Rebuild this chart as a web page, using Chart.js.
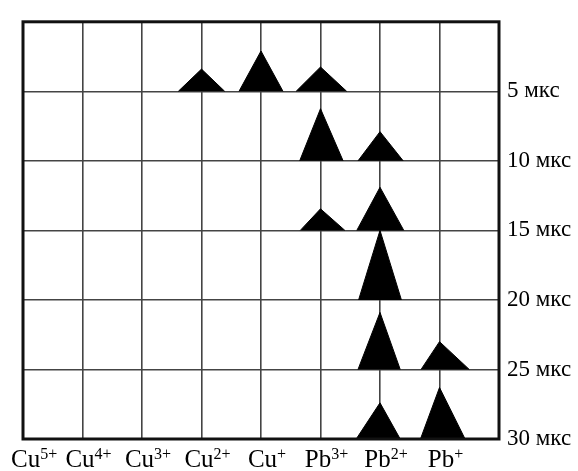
<!DOCTYPE html>
<html>
<head>
<meta charset="utf-8">
<script src="https://cdn.jsdelivr.net/npm/chart.js@4/dist/chart.umd.min.js"></script>
<style>
  html, body { margin: 0; padding: 0; background: #fff; }
  #chart { display: block; }
</style>
</head>
<body>
<canvas id="chart" width="578" height="471"></canvas>
<script>
// ионы по оси X (элемент + заряд)
const ions = ["Cu", "Cu", "Cu", "Cu", "Cu", "Pb", "Pb", "Pb"];
const charges = ["5+", "4+", "3+", "2+", "+", "3+", "2+", "+"];
// время, мкс
const timeTicks = [5, 10, 15, 20, 25, 30];

// пики: индекс иона, время (базовая линия), высота (мкс), полуширина слева/справа
const peakIon    = [3,    4,    5,    5,    6,    5,    6,    6,    6,    7,    6,    7];
const peakTime   = [5,    5,    5,    10,   10,   15,   15,   20,   25,   25,   30,   30];
const peakHeight = [1.6,  2.9,  1.75, 3.75, 2.1,  1.55, 3.1,  5.0,  4.1,  2.0,  2.6,  3.7];
const peakLeft   = [0.39, 0.37, 0.41, 0.35, 0.37, 0.34, 0.39, 0.36, 0.37, 0.31, 0.40, 0.32];
const peakRight  = [0.39, 0.37, 0.44, 0.38, 0.39, 0.41, 0.40, 0.36, 0.34, 0.50, 0.34, 0.43];

const serif = "'Liberation Serif', 'Times New Roman', serif";

const datasets = peakIon.map((c, i) => ({
    data: [
        { x: c - peakLeft[i], y: peakTime[i] },
        { x: c, y: peakTime[i] - peakHeight[i] },
        { x: c + peakRight[i], y: peakTime[i] },
    ],
    borderColor: "#000",
    backgroundColor: "#000",
    borderWidth: 1,
    pointRadius: 0,
    tension: 0,
    fill: { value: peakTime[i] },
}));

// подписи ионов с надстрочным зарядом + рамка
const ionLabels = {
    id: "ionLabels",
    afterDraw(chart) {
        const ctx = chart.ctx;
        const xs = chart.scales.x;
        const a = chart.chartArea;

        ctx.save();
        ctx.strokeStyle = "#111";
        ctx.lineWidth = 3;
        ctx.strokeRect(a.left, a.top, a.right - a.left, a.bottom - a.top);

        ctx.fillStyle = "#000";
        ctx.textBaseline = "alphabetic";
        ions.forEach((el, i) => {
            ctx.font = "25px " + serif;
            const wb = ctx.measureText(el).width;
            ctx.font = "16px " + serif;
            const ws = ctx.measureText(charges[i]).width;
            const w = wb + ws;
            let x = xs.getPixelForValue(i) + 6 - w / 2;
            if (x < 11) x = 11;
            ctx.font = "25px " + serif;
            ctx.fillText(el, x, 467);
            ctx.font = "16px " + serif;
            ctx.fillText(charges[i], x + wb, 459);
        });
        ctx.restore();
    },
};

const ctx = document.getElementById("chart").getContext("2d");
new Chart(ctx, {
    type: "line",
    data: { datasets },
    options: {
        responsive: false,
        animation: false,
        layout: { padding: { left: 23, top: 15, right: 0, bottom: 0 } },
        plugins: {
            legend: { display: false },
            tooltip: { enabled: false },
        },
        scales: {
            x: {
                type: "linear",
                min: 0,
                max: 8,
                ticks: { stepSize: 1, display: false },
                grid: { color: "#444", lineWidth: 1.6, drawTicks: false },
                border: { display: false },
                afterFit(s) { s.height = 32; },
            },
            y: {
                type: "linear",
                position: "right",
                reverse: true,
                min: 0,
                max: 30,
                afterBuildTicks(s) {
                    s.ticks = [0].concat(timeTicks).map(v => ({ value: v }));
                },
                ticks: {
                    padding: 8,
                    color: "#000",
                    font: { family: serif, size: 23 },
                    callback: v => (v === 0 ? "" : v + " мкс"),
                },
                grid: { color: "#444", lineWidth: 1.6, drawTicks: false },
                border: { display: false },
                afterFit(s) { s.width = 79; },
            },
        },
    },
    plugins: [ionLabels],
});
</script>
</body>
</html>
